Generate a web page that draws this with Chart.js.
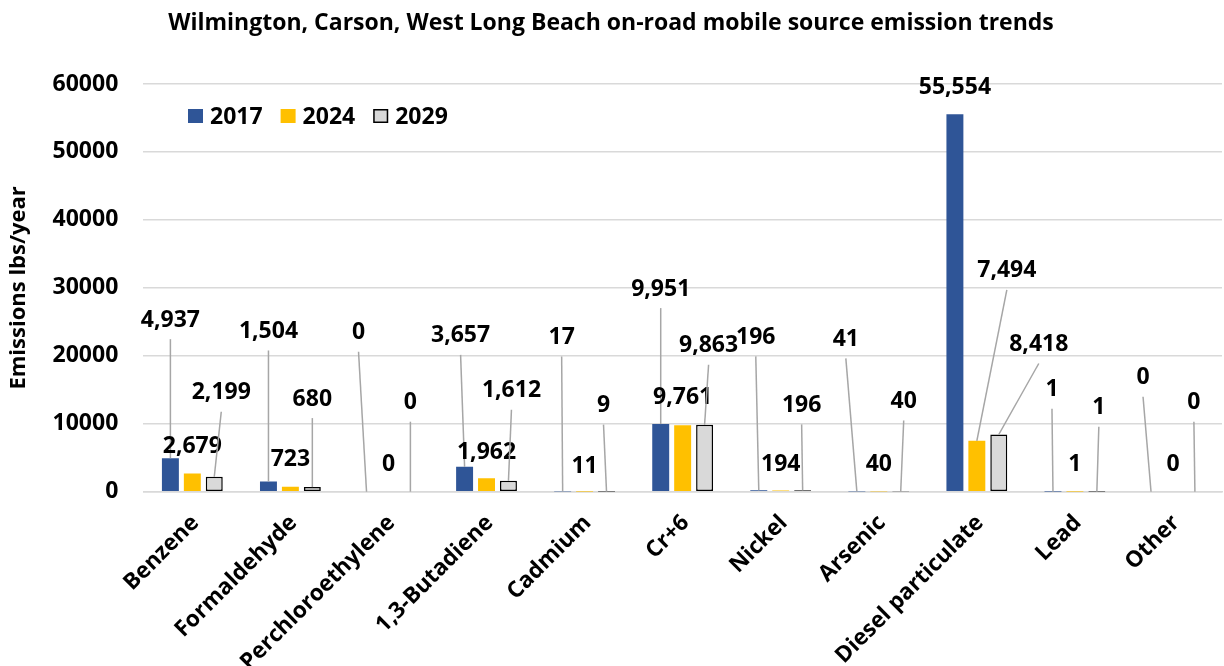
<!DOCTYPE html>
<html>
<head>
<meta charset="utf-8">
<script src="https://cdn.jsdelivr.net/npm/chart.js@4.4.1/dist/chart.umd.min.js"></script>
<style>
  html, body { margin: 0; padding: 0; background: #fff; overflow: hidden; }
  #wrap { width: 1224px; height: 666px; }
</style>
</head>
<body>
<div id="wrap"><canvas id="c" width="1224" height="666"></canvas></div>
<script>
// ---- Data ----
const categories = ["Benzene", "Formaldehyde", "Perchloroethylene", "1,3-Butadiene", "Cadmium", "Cr+6", "Nickel", "Arsenic", "Diesel particulate", "Lead", "Other"];
const seriesNames = ["2017", "2024", "2029"];
const values2017 = [4937, 1504, 0, 3657, 17, 9951, 196, 41, 55554, 1, 0];
const values2024 = [2679, 723, 0, 1962, 11, 9761, 194, 40, 7494, 1, 0];
const values2029 = [2199, 680, 0, 1612, 9, 9863, 196, 40, 8418, 1, 0];
const yTicks = [0, 10000, 20000, 30000, 40000, 50000, 60000];

// ---- Layout (label offsets from bar top, px) ----
const LABEL_OFFSETS = [
  [[0,-138],[0,-150],[-8,-159],[-4,-131],[-1,-154],[0,-135],[-3,-153],[-11,-152],[0,-27],[-1,-102],[-8,-114]],
  [[0,-27],[0,-27],[0,-27],[0,-26],[0,-25],[0,-28],[0,-26],[0,-27],[30,-170],[0,-27],[0,-27]],
  [[7,-84],[0,-88],[0,-89],[3,-90],[-3,-86],[4,-79],[-1,-85],[3,-90],[40,-90],[2,-84],[-1,-89]]
];

const FONT = "'Open Sans', 'DejaVu Sans', sans-serif";
const COLORS = ["#2F5597", "#FFC000", "#D9D9D9"];
const BORDERS = [null, null, "#000000"];

const labelPlugin = {
  id: 'leaderLabels',
  afterDatasetsDraw(chart) {
    const ctx = chart.ctx;
    ctx.save();
    ctx.font = "bold 23px " + FONT;
    ctx.textAlign = 'center';
    ctx.textBaseline = 'middle';
    chart.data.datasets.forEach((ds, i) => {
      const meta = chart.getDatasetMeta(i);
      meta.data.forEach((el, j) => {
        const off = LABEL_OFFSETS[i][j];
        const lx = el.x + off[0];
        const ly = el.y + off[1];
        if (off[1] < -40) {
          ctx.strokeStyle = '#A6A6A6';
          ctx.lineWidth = 1.5;
          ctx.beginPath();
          ctx.moveTo(lx, ly + 19);
          ctx.lineTo(el.x, el.y);
          ctx.stroke();
        }
        ctx.fillStyle = '#000';
        ctx.fillText(Number(ds.data[j]).toLocaleString('en-US'), lx, ly);
      });
    });
    ctx.restore();
  }
};

const legendPlugin = {
  id: 'insideLegend',
  afterDraw(chart) {
    const ctx = chart.ctx;
    ctx.save();
    ctx.font = "bold 23px " + FONT;
    ctx.textBaseline = 'middle';
    ctx.textAlign = 'left';
    let x = 188;
    const cy = 116;
    chart.data.datasets.forEach((ds) => {
      ctx.fillStyle = ds.backgroundColor;
      ctx.fillRect(x, cy - 7, 15, 14);
      if (ds.borderWidth) {
        ctx.strokeStyle = ds.borderColor;
        ctx.lineWidth = 1.5;
        ctx.strokeRect(x + 0.75, cy - 6.25, 13.5, 12.5);
      }
      ctx.fillStyle = '#000';
      ctx.fillText(ds.label, x + 22, cy + 1);
      x += 22 + ctx.measureText(ds.label).width + 18;
    });
    ctx.restore();
  }
};

const datasets = [values2017, values2024, values2029].map((vals, i) => ({
  label: seriesNames[i],
  data: vals,
  backgroundColor: COLORS[i],
  borderColor: BORDERS[i] || COLORS[i],
  borderWidth: BORDERS[i] ? 1.5 : 0,
  borderSkipped: false,
  categoryPercentage: 0.671,
  barPercentage: 0.773
}));

new Chart(document.getElementById('c'), {
  type: 'bar',
  data: { labels: categories, datasets },
  options: {
    responsive: false,
    animation: false,
    devicePixelRatio: 1,
    layout: { padding: { left: 0, right: 2, top: 0, bottom: 0 } },
    plugins: {
      legend: { display: false },
      tooltip: { enabled: false },
      title: {
        display: true,
        text: "Wilmington, Carson, West Long Beach on-road mobile source emission trends",
        color: '#000',
        font: { family: FONT, size: 23, weight: 'bold', lineHeight: 1.2 },
        padding: { top: 10, bottom: 46.4 }
      }
    },
    scales: {
      x: {
        grid: { display: false, drawTicks: false },
        border: { display: true, color: '#D9D9D9', width: 1.5 },
        ticks: {
          color: '#000',
          font: { family: FONT, size: 22.5, weight: 'bold' },
          minRotation: 45, maxRotation: 45,
          autoSkip: false,
          padding: 18,
          labelOffset: 3
        },
        afterFit(scale) { scale.height = 174.3; }
      },
      y: {
        min: 0, max: 60000,
        afterBuildTicks(scale) { scale.ticks = yTicks.map(v => ({ value: v })); },
        grid: { color: '#D9D9D9', lineWidth: 1.5, drawTicks: false },
        border: { display: false },
        ticks: {
          color: '#000',
          font: { family: FONT, size: 23, weight: 'bold' },
          padding: 25,
          callback: (v) => String(v)
        },
        title: {
          display: true,
          text: 'Emissions lbs/year',
          color: '#000',
          font: { family: FONT, size: 22, weight: 'bold', lineHeight: 1.2 },
          padding: { top: 6, bottom: 0 }
        },
        afterFit(scale) { scale.width = 143.3; }
      }
    }
  },
  plugins: [labelPlugin, legendPlugin]
});
</script>
</body>
</html>
